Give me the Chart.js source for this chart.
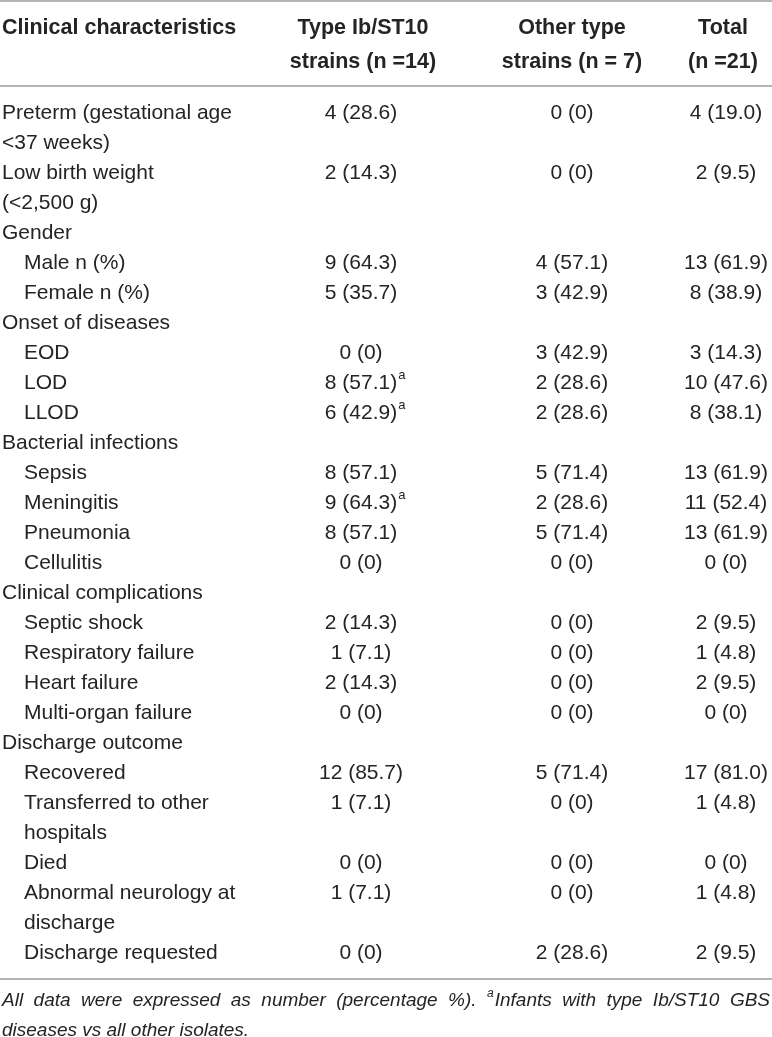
<!DOCTYPE html>
<html lang="en">
<head>
<meta charset="UTF-8">
<title>Clinical characteristics table</title>
<script src="https://cdn.jsdelivr.net/npm/chart.js"></script>
<style>
  html, body { margin: 0; padding: 0; background: #ffffff; }
  #wrap { width: 772px; height: 1037px; position: relative; }
</style>
</head>
<body>
<div id="wrap"><canvas id="tableChart"></canvas></div>

<script>
    // ---- table data ----
    const headers = ['Clinical characteristics', 'Type Ib/ST10\nstrains (n =14)', 'Other type\nstrains (n = 7)', 'Total\n(n =21)'];

    const rowLabels = [
        'Preterm (gestational age\n<37 weeks)', 'Low birth weight\n(<2,500 g)', 'Gender', 'Male n (%)', 'Female n (%)',
        'Onset of diseases', 'EOD', 'LOD', 'LLOD',
        'Bacterial infections', 'Sepsis', 'Meningitis', 'Pneumonia', 'Cellulitis',
        'Clinical complications', 'Septic shock', 'Respiratory failure', 'Heart failure', 'Multi-organ failure',
        'Discharge outcome', 'Recovered', 'Transferred to other\nhospitals', 'Died', 'Abnormal neurology at\ndischarge', 'Discharge requested'
    ];
    const rowIndent = [0, 0, 0, 1, 1, 0, 1, 1, 1, 0, 1, 1, 1, 1, 0, 1, 1, 1, 1, 0, 1, 1, 1, 1, 1];

    const ibCount     = [4, 2, null, 9, 5, null, 0, 8, 6, null, 8, 9, 8, 0, null, 2, 1, 2, 0, null, 12, 1, 0, 1, 0];
    const ibPct       = [28.6, 14.3, null, 64.3, 35.7, null, 0, 57.1, 42.9, null, 57.1, 64.3, 57.1, 0, null, 14.3, 7.1, 14.3, 0, null, 85.7, 7.1, 0, 7.1, 0];
    const ibNote      = ['', '', '', '', '', '', '', 'a', 'a', '', '', 'a', '', '', '', '', '', '', '', '', '', '', '', '', ''];
    const otherCount  = [0, 0, null, 4, 3, null, 3, 2, 2, null, 5, 2, 5, 0, null, 0, 0, 0, 0, null, 5, 0, 0, 0, 2];
    const otherPct    = [0, 0, null, 57.1, 42.9, null, 42.9, 28.6, 28.6, null, 71.4, 28.6, 71.4, 0, null, 0, 0, 0, 0, null, 71.4, 0, 0, 0, 28.6];
    const totalCount  = [4, 2, null, 13, 8, null, 3, 10, 8, null, 13, 11, 13, 0, null, 2, 1, 2, 0, null, 17, 1, 0, 1, 2];
    const totalPct    = [19.0, 9.5, null, 61.9, 38.9, null, 14.3, 47.6, 38.1, null, 61.9, 52.4, 61.9, 0, null, 9.5, 4.8, 9.5, 0, null, 81.0, 4.8, 0, 4.8, 9.5];

    const footnote = ['All data were expressed as number (percentage %). ^aInfants with type Ib/ST10 GBS', 'diseases vs all other isolates.'];

    // ---- layout (x in px, y in text-line units) ----
    const labelX = [2, 24];
    const colX = [361, 572, 726];
    const headX = [363, 572, 723];
    const headY = [-2.83, -1.7];
    const ruleY = [-3.73, -0.9];
    const bottomGap = 0.87;
    const footGap = 1.6;
    const ink = '#262324';
    const bodyFont = '21px "Liberation Sans", Arial, sans-serif';
    const boldFont = 'bold 21.5px "Liberation Sans", Arial, sans-serif';
    const supFont = '13px "Liberation Sans", Arial, sans-serif';
    const footFont = 'italic 19px "Liberation Sans", Arial, sans-serif';
    const footSupFont = 'italic 12px "Liberation Sans", Arial, sans-serif';

    // line index of every row
    const rowLine = [];
    let acc = 0;
    rowLabels.forEach(function (l) { rowLine.push(acc); acc += l.split('\n').length; });
    const totalLines = acc;

    function cell(n, p) {
        if (n === null) return null;
        return n + ' (' + (p === 0 ? '0' : p.toFixed(1)) + ')';
    }

    const cols = [
        rowLabels.map(function (_, i) { return cell(ibCount[i], ibPct[i]); }),
        rowLabels.map(function (_, i) { return cell(otherCount[i], otherPct[i]); }),
        rowLabels.map(function (_, i) { return cell(totalCount[i], totalPct[i]); })
    ];

    const datasets = [{
        label: 'labels',
        data: rowLabels.map(function (_, i) { return { x: labelX[rowIndent[i]], y: rowLine[i], t: rowLabels[i] }; })
    }];
    cols.forEach(function (c, k) {
        const pts = [];
        c.forEach(function (t, i) {
            if (t !== null) pts.push({ x: colX[k], y: rowLine[i], t: t, sup: k === 0 ? ibNote[i] : '' });
        });
        datasets.push({ label: headers[k + 1], data: pts });
    });
    datasets.forEach(function (d) { d.pointRadius = 0; d.pointHoverRadius = 0; });

    const tablePlugin = {
        id: 'tableText',
        afterDatasetsDraw(chart) {
            const ctx = chart.ctx;
            const xs = chart.scales.x, ys = chart.scales.y;
            ctx.save();
            ctx.fillStyle = ink;
            ctx.textBaseline = 'middle';

            // rules
            ctx.strokeStyle = '#9b9b9b';
            ctx.lineWidth = 1.5;
            ruleY.concat([totalLines - 1 + bottomGap]).forEach(function (v) {
                const py = ys.getPixelForValue(v);
                ctx.beginPath();
                ctx.moveTo(xs.left, py);
                ctx.lineTo(xs.right, py);
                ctx.stroke();
            });

            // header
            ctx.font = boldFont;
            ctx.textAlign = 'left';
            ctx.fillText(headers[0], xs.getPixelForValue(labelX[0]), ys.getPixelForValue(headY[0]));
            ctx.textAlign = 'center';
            headers.slice(1).forEach(function (h, k) {
                h.split('\n').forEach(function (line, j) {
                    ctx.fillText(line, xs.getPixelForValue(headX[k]), ys.getPixelForValue(headY[j]));
                });
            });

            // body cells, positioned by the point elements
            chart.data.datasets.forEach(function (ds, di) {
                const meta = chart.getDatasetMeta(di);
                meta.data.forEach(function (el, i) {
                    const d = ds.data[i];
                    const lines = d.t.split('\n');
                    ctx.textAlign = di === 0 ? 'left' : 'center';
                    lines.forEach(function (line, j) {
                        const py = ys.getPixelForValue(d.y + j);
                        ctx.font = bodyFont;
                        ctx.fillText(line, el.x, py);
                        if (d.sup) {
                            const w = ctx.measureText(line).width;
                            ctx.font = supFont;
                            ctx.textAlign = 'left';
                            ctx.fillText(d.sup, el.x + w / 2 + 1, py - 8);
                            ctx.textAlign = 'center';
                        }
                    });
                });
            });

            // footnote, first line justified
            ctx.textAlign = 'left';
            footnote.forEach(function (line, j) {
                const py = ys.getPixelForValue(totalLines - 1 + footGap + j);
                const words = line.split(' ').map(function (w) {
                    const m = w.match(/^\^(\w)(.*)$/);
                    return m ? { sup: m[1], t: m[2] } : { sup: '', t: w };
                });
                ctx.font = footFont;
                const space = ctx.measureText(' ').width;
                const widths = words.map(function (w) {
                    ctx.font = footSupFont;
                    const s = w.sup ? ctx.measureText(w.sup).width + 1 : 0;
                    ctx.font = footFont;
                    return s + ctx.measureText(w.t).width;
                });
                const natural = widths.reduce(function (a, b) { return a + b; }, 0);
                const left = xs.getPixelForValue(labelX[0]);
                const right = xs.right - 2;
                const gap = j === 0 ? (right - left - natural) / (words.length - 1) : space;
                let px = left;
                words.forEach(function (w) {
                    if (w.sup) {
                        ctx.font = footSupFont;
                        ctx.fillText(w.sup, px, py - 7);
                        px += ctx.measureText(w.sup).width + 1;
                    }
                    ctx.font = footFont;
                    ctx.fillText(w.t, px, py);
                    px += ctx.measureText(w.t).width + gap;
                });
            });
            ctx.restore();
        }
    };

    const ctx = document.getElementById('tableChart').getContext('2d');
    new Chart(ctx, {
        type: 'scatter',
        data: { datasets: datasets },
        options: {
            responsive: true,
            maintainAspectRatio: false,
            animation: false,
            events: [],
            layout: { padding: 0 },
            plugins: { legend: { display: false }, tooltip: { enabled: false } },
            scales: {
                x: { type: 'linear', display: false, min: 0, max: 772 },
                y: { type: 'linear', display: false, reverse: true, min: -3.767, max: 30.8 }
            }
        },
        plugins: [tablePlugin]
    });
</script>
</body>
</html>
